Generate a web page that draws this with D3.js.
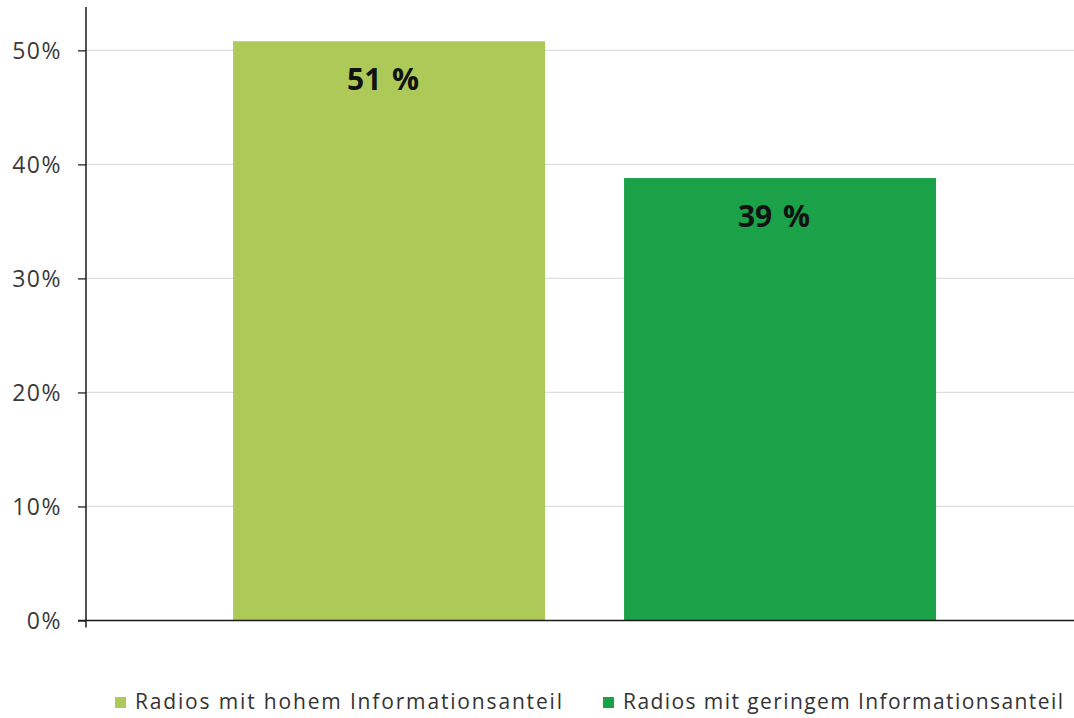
<!DOCTYPE html>
<html>
<head>
<meta charset="utf-8">
<script src="https://cdn.jsdelivr.net/npm/d3@7"></script>
<style>
  html, body { margin: 0; padding: 0; background: #fff; }
  svg { display: block; }
</style>
</head>
<body>
<svg id="chart" width="1074" height="718"></svg>
<script>
const categories = ["Radios mit hohem Informationsanteil", "Radios mit geringem Informationsanteil"];
const values = [0.508, 0.388];
const valueLabels = ["51 %", "39 %"];
const colors = ["#adca58", "#1ba147"];
const yTicks = [0, 0.1, 0.2, 0.3, 0.4, 0.5];
const yTickLabels = ["0%", "10%", "20%", "30%", "40%", "50%"];
const yMax = 0.538;

(function () {
const svg = d3.select("#chart");
const mLeft = 86, mRight = 1074, mBottom = 620.5, mTop = 7;

const y = d3.scaleLinear().domain([0, yMax]).range([mBottom, mTop]);
const x = d3.scaleBand().domain(categories).range([mLeft, mRight])
  .paddingInner(0.202).paddingOuter(0.3645).align(0.516);

// gridlines
svg.append("g").selectAll("line").data(yTicks.filter(d => d > 0)).join("line")
  .attr("x1", mLeft).attr("x2", mRight)
  .attr("y1", d => y(d)).attr("y2", d => y(d))
  .attr("stroke", "#dedede").attr("stroke-width", 1.2);

// bars
svg.append("g").selectAll("rect").data(categories).join("rect")
  .attr("x", d => x(d)).attr("width", x.bandwidth())
  .attr("y", (d, i) => y(values[i]))
  .attr("height", (d, i) => y(0) - y(values[i]))
  .attr("fill", (d, i) => colors[i]);

// value labels
svg.append("g").selectAll("text").data(categories).join("text")
  .attr("x", d => x(d) + x.bandwidth() / 2 - 6)
  .attr("y", (d, i) => y(values[i]) + 49)
  .attr("text-anchor", "middle")
  .attr("font-family", "'Open Sans', 'Noto Sans', sans-serif")
  .attr("font-weight", "bold")
  .attr("font-size", 30)
  .attr("fill", "#111")
  .style("word-spacing", "3px")
  .text((d, i) => valueLabels[i]);

// y axis
const yAxis = d3.axisLeft(y).tickValues(yTicks)
  .tickFormat((d, i) => yTickLabels[i]).tickSize(8).tickPadding(16);
const ga = svg.append("g").attr("transform", `translate(${mLeft},0)`).call(yAxis);
ga.select(".domain").remove();
ga.selectAll(".tick line").attr("stroke", "#222").attr("stroke-width", 1.3);
ga.selectAll(".tick text")
  .attr("font-family", "'Open Sans', 'Noto Sans', sans-serif")
  .attr("font-size", 23)
  .attr("fill", "#3a3a3a")
  .attr("dy", "0.36em")
  .style("letter-spacing", "1.5px");

// axis lines
svg.append("line").attr("x1", mLeft).attr("x2", mLeft).attr("y1", mTop).attr("y2", mBottom + 7)
  .attr("stroke", "#1a1a1a").attr("stroke-width", 1.5);
svg.append("line").attr("x1", mLeft - 8).attr("x2", mRight).attr("y1", mBottom).attr("y2", mBottom)
  .attr("stroke", "#1a1a1a").attr("stroke-width", 1.5);

// legend
const legendX = [115, 603];
const legendTextWidth = [427, 440];
const lg = svg.append("g").selectAll("g").data(categories).join("g")
  .attr("transform", (d, i) => `translate(${legendX[i]},697)`);
lg.append("rect").attr("width", 11).attr("height", 11).attr("fill", (d, i) => colors[i]);
lg.append("text").attr("x", 20).attr("y", 12)
  .attr("font-family", "'Open Sans', 'Noto Sans', sans-serif")
  .attr("font-size", 21)
  .attr("fill", "#333")
  .attr("textLength", (d, i) => legendTextWidth[i])
  .attr("lengthAdjust", "spacing")
  .text(d => d);
})();
</script>
</body>
</html>
